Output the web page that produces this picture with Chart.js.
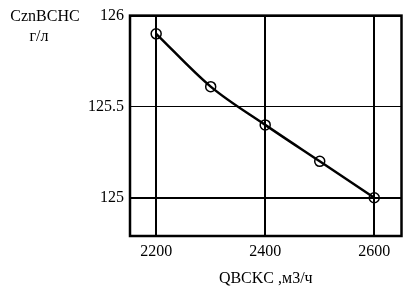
<!DOCTYPE html>
<html>
<head>
<meta charset="utf-8">
<script src="https://cdn.jsdelivr.net/npm/chart.js@4/dist/chart.umd.min.js"></script>
<style>
  html, body { margin: 0; padding: 0; background: #fff; }
  #wrap { width: 408px; height: 299px; }
</style>
</head>
<body>
<div id="wrap"><canvas id="myChart" width="408" height="299"></canvas></div>
<script>
// data
const flow = [2200, 2300, 2400, 2500, 2600];
const conc = [125.9, 125.61, 125.4, 125.2, 125.0];
const xTicks = [2200, 2400, 2600];
const yTicks = [125, 125.5, 126];
const yTitle = ['CznBCHC', 'г/л'];
const xTitle = 'QBCKC ,м3/ч';

const serif = '"Liberation Serif", "DejaVu Serif", serif';

// frame round the plot + the y title in the top left corner
const framePlugin = {
    id: 'frame',
    afterDatasetsDraw(chart) {
        const ctx = chart.ctx;
        const a = chart.chartArea;
        ctx.save();
        ctx.strokeStyle = '#000';
        ctx.lineWidth = 2.5;
        ctx.strokeRect(a.left, a.top, a.right - a.left, a.bottom - a.top);
        ctx.restore();
    },
    afterDraw(chart) {
        const ctx = chart.ctx;
        ctx.save();
        ctx.fillStyle = '#000';
        ctx.font = '16px ' + serif;
        ctx.textAlign = 'center';
        ctx.textBaseline = 'middle';
        ctx.fillText(yTitle[0], 45, 17);
        ctx.fillText(yTitle[1], 39, 37);
        ctx.restore();
    }
};

const config = {
    type: 'line',
    data: {
        datasets: [{
            data: flow.map((x, i) => ({ x: x, y: conc[i] })),
            borderColor: '#000',
            borderWidth: 2.5,
            cubicInterpolationMode: 'monotone',
            pointRadius: 5,
            pointBorderWidth: 1.5,
            pointBorderColor: '#000',
            pointBackgroundColor: 'rgba(0,0,0,0)'
        }]
    },
    options: {
        responsive: false,
        animation: false,
        layout: { padding: { top: 14, right: 5, left: 0, bottom: 7 } },
        plugins: { legend: { display: false }, tooltip: { enabled: false } },
        scales: {
            x: {
                type: 'linear',
                min: 2152,
                max: 2650,
                afterBuildTicks: (s) => { s.ticks = xTicks.map(v => ({ value: v })); },
                afterFit: (s) => { s.height = 56; },
                grid: { color: '#000', lineWidth: 2, drawTicks: false },
                border: { display: false },
                ticks: {
                    color: '#000',
                    font: { family: serif, size: 16 },
                    padding: 6,
                    maxRotation: 0,
                    callback: (v) => String(v)
                },
                title: {
                    display: true,
                    text: xTitle,
                    color: '#000',
                    font: { family: serif, size: 16 },
                    padding: { top: 6 }
                }
            },
            y: {
                type: 'linear',
                min: 124.79,
                max: 126,
                afterBuildTicks: (s) => { s.ticks = yTicks.map(v => ({ value: v })); },
                afterFit: (s) => { s.width = 130; },
                grid: {
                    color: '#000',
                    lineWidth: (c) => (c.tick && c.tick.value === 125.5 ? 1 : 2),
                    drawTicks: false
                },
                border: { display: false },
                ticks: {
                    color: '#000',
                    font: { family: serif, size: 16 },
                    padding: 6,
                    callback: (v) => String(v)
                }
            }
        }
    },
    plugins: [framePlugin]
};

new Chart(document.getElementById('myChart'), config);
</script>
</body>
</html>
